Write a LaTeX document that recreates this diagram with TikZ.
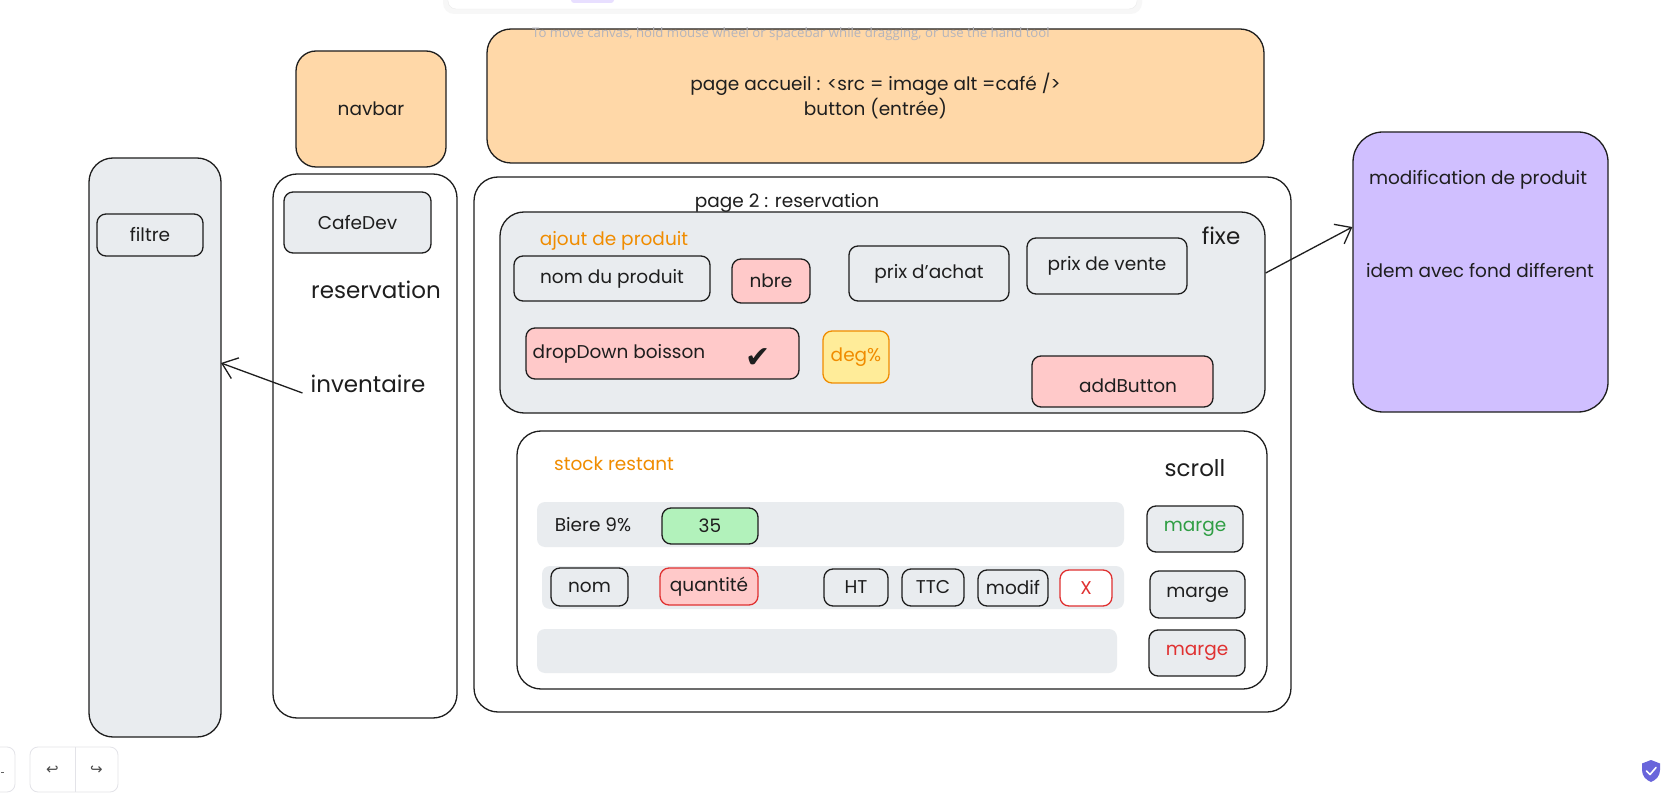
\documentclass[tikz,border=0pt]{standalone}
\usepackage{fontspec}
\setmainfont{Poppins}
\newfontfamily\hintfont{Open Sans}
\newfontfamily\symfont{DejaVu Sans}
\usetikzlibrary{arrows.meta,positioning}

\definecolor{ink}{HTML}{1E1E1E}
\definecolor{peach}{HTML}{FFD8A8}
\definecolor{paleGray}{HTML}{E9ECEF}
\definecolor{pink}{HTML}{FFC9C9}
\definecolor{butter}{HTML}{FFEC99}
\definecolor{amber}{HTML}{F08C00}
\definecolor{mint}{HTML}{B2F2BB}
\definecolor{leaf}{HTML}{2F9E44}
\definecolor{alert}{HTML}{E03131}
\definecolor{lilac}{HTML}{D0BFFF}
\definecolor{hintgray}{HTML}{B4B4BC}
\definecolor{uiline}{HTML}{E3E3E8}
\definecolor{shieldblue}{HTML}{6965DB}

\tikzset{
  card/.style={draw=ink, line width=1.3pt, rounded corners=9pt, inner sep=0pt,
    font=\fontsize{18.5}{24.5}\selectfont, text=ink},
  panel/.style={card, rounded corners=24pt},
  strip/.style={fill=paleGray, rounded corners=8pt, inner sep=0pt},
  lbl/.style={font=\fontsize{18.5}{24.5}\selectfont, text=ink, inner sep=2pt},
  biglbl/.style={font=\fontsize{23}{27}\selectfont, text=ink, inner sep=2pt},
  sketcharrow/.style={draw=ink, line width=1.3pt, -{Straight Barb[length=14pt,width=22pt]}},
  uibox/.style={draw=uiline, line width=0.8pt, rounded corners=8pt},
}

\begin{document}
\begin{tikzpicture}[x=1pt,y=-1pt]
\fill[white] (0,0) rectangle (1674,802);
\useasboundingbox (0,0) rectangle (1674,802);

% toolbar at the top of the canvas
\fill[black!3, rounded corners=11pt] (443,-20) rectangle (1142,14);
\filldraw[fill=white, draw=black!8, rounded corners=8pt] (448,-20) rectangle (1137,9);
\fill[lilac!50, rounded corners=3pt] (571,-10) rectangle (614,3);

% page accueil + navbar
\node[panel, fill=peach, minimum width=777pt, minimum height=134pt, align=center] (accueil) at (875.5,96)
  {page accueil : <src = image alt =café />\\button (entrée)};
\node[panel, rounded corners=20pt, fill=peach, minimum width=150pt, minimum height=116pt] (navbar) at (371,109) {navbar};

\node[anchor=west, font=\hintfont\fontsize{13.2}{15}\selectfont, text=hintgray, inner sep=0pt] (hint) at (532,34)
  {To move canvas, hold mouse wheel or spacebar while dragging, or use the hand tool};

% filtre column
\node[panel, fill=paleGray, minimum width=132pt, minimum height=579pt] (filtrecol) at (155,447.5) {};
\node[card, fill=paleGray, minimum width=106pt, minimum height=42pt] (filtre) at (150,235) {filtre};

% menu column
\node[panel, fill=white, minimum width=184pt, minimum height=544pt] (menucol) at (365,446) {};
\node[card, fill=paleGray, minimum width=147pt, minimum height=61pt] (cafedev) at (357.5,222.5) {CafeDev};
\node[biglbl] (reservation) at (376,290) {reservation};
\node[biglbl] (inventaire) at (368,384) {inventaire};
\coordinate (invtip) at (221,363);
\draw[sketcharrow] ([xshift=-6pt,yshift=-9pt]inventaire.west) -- (invtip);

% page 2
\node[panel, fill=white, minimum width=817pt, minimum height=535pt] (page2) at (882.5,444.5) {};
\node[lbl] (page2title) at (787,203) {page 2 : reservation};

% partie fixe
\node[panel, fill=paleGray, minimum width=765pt, minimum height=201pt] (fixe) at (882.5,312.5) {};
\node[biglbl] (fixelbl) at (1221,236) {fixe};
\node[lbl, text=amber] (ajout) at (614,241) {ajout de produit};
\node[card, fill=paleGray, minimum width=196pt, minimum height=45pt] (nomprod) at (612,278.5) {nom du produit};
\node[card, fill=pink, minimum width=78pt, minimum height=44pt] (nbre) at (771,281) {nbre};
\node[card, fill=paleGray, minimum width=160pt, minimum height=55pt] (achat) at (929,273.5) {prix d'achat};
\node[card, fill=paleGray, minimum width=160pt, minimum height=56pt] (vente) at (1107,266) {prix de vente};
\node[card, fill=pink, minimum width=273pt, minimum height=51pt] (dropdown) at (662.5,353.5) {};
\node[lbl] (droptxt) at (619,354) {dropDown boisson};
\node[font=\symfont\fontsize{30}{30}\selectfont, text=ink, inner sep=0pt] (check) at (758,358) {✔};
\node[card, draw=amber, fill=butter, text=amber, minimum width=66pt, minimum height=52pt] (deg) at (856,357) {deg\%};
\node[card, fill=pink, minimum width=181pt, minimum height=51pt] (addbtn) at (1122.5,381.5) {};
\node[lbl] (addtxt) at (1128,386) {addButton};

% stock restant
\node[panel, fill=white, minimum width=750pt, minimum height=258pt] (stock) at (892,560) {};
\node[lbl, text=amber] (stocklbl) at (614,464) {stock restant};
\node[biglbl] (scroll) at (1195,468) {scroll};

\node[strip, minimum width=587pt, minimum height=45pt] (row1) at (830.5,524.5) {};
\node[strip, minimum width=582pt, minimum height=43pt] (row2) at (833,587.5) {};
\node[strip, minimum width=580pt, minimum height=44pt] (row3) at (827,651) {};

\node[lbl] (biere) at (593,525) {Biere 9\%};
\node[card, fill=mint, minimum width=96pt, minimum height=36pt] (qty) at (710,526) {35};

\node[card, fill=paleGray, minimum width=77pt, minimum height=38pt] (nom) at (589.5,587) {nom};
\node[card, draw=alert, fill=pink, minimum width=98pt, minimum height=37pt] (quantite) at (709,586.5) {quantité};
\node[card, fill=paleGray, minimum width=64pt, minimum height=37pt] (ht) at (856,587.5) {HT};
\node[card, fill=paleGray, minimum width=62pt, minimum height=37pt] (ttc) at (933,587.5) {TTC};
\node[card, fill=paleGray, minimum width=70pt, minimum height=36pt] (modif) at (1013,588) {modif};
\node[card, draw=alert, fill=white, text=alert, minimum width=52pt, minimum height=36pt] (suppr) at (1086,588) {X};

\node[card, fill=paleGray, text=leaf, minimum width=96pt, minimum height=46pt] (marge1) at (1195,529) {marge};
\node[card, fill=paleGray, minimum width=95pt, minimum height=47pt] (marge2) at (1197.5,594.5) {marge};
\node[card, fill=paleGray, text=alert, minimum width=96pt, minimum height=46pt] (marge3) at (1197,653) {marge};

% modification de produit
\node[panel, rounded corners=30pt, fill=lilac, minimum width=255pt, minimum height=280pt] (modifbox) at (1480.5,272) {};
\node[lbl] (modiflbl) at (1478,180) {modification de produit};
\node[lbl] (idemlbl) at (1480,271) {idem avec fond different};
\draw[sketcharrow] ([yshift=39.5pt]fixe.east) -- ([yshift=45pt]modifbox.west);

% canvas controls
\draw[uibox] (-30,747) rectangle (15,792);
\draw[ink!70, line width=0.8pt] (1,772) -- (4,772);
\draw[uibox] (30,747) rectangle (118,792);
\draw[uiline, line width=0.8pt] (75,747) -- (75,792);
\node[font=\symfont\fontsize{15}{15}\selectfont, text=ink!80] (undo) at (52.5,770) {↩};
\node[font=\symfont\fontsize{15}{15}\selectfont, text=ink!80] (redo) at (96.5,770) {↪};
\fill[shieldblue] (1651,760) -- (1660,763.5) -- (1660,770) .. controls (1660,776) and (1656,780) .. (1651,782)
  .. controls (1646,780) and (1642,776) .. (1642,770) -- (1642,763.5) -- cycle;
\draw[white, line width=1.6pt, line cap=round, line join=round] (1646.5,771) -- (1650,774.5) -- (1656,767.5);
\end{tikzpicture}
\end{document}
